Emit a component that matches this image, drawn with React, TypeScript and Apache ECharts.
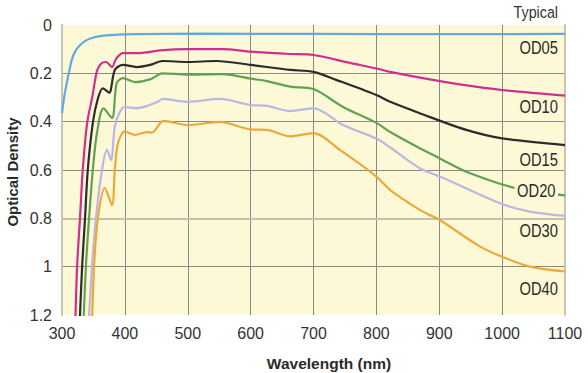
import React, { useEffect, useRef } from "react";
import * as echarts from "echarts";

// Wavelength (nm) / optical density samples
const wlOD05 = [300, 304, 308, 312, 316, 322, 329, 337, 345, 358, 376, 420, 520, 700, 900, 1100];
const odOD05 = [0.365, 0.29, 0.235, 0.185, 0.14, 0.105, 0.083, 0.066, 0.056, 0.047, 0.042, 0.038, 0.036, 0.037, 0.038, 0.037];

const wlOD10 = [320.5, 324, 328.6, 333, 340, 348, 355.6, 362, 370, 379.5, 386, 397, 424, 456, 500, 556, 600, 663, 700, 758, 800, 822, 874, 938, 1000, 1100];
const odOD10 = [1.3, 1.0, 0.8, 0.6, 0.405, 0.3, 0.19, 0.16, 0.153, 0.174, 0.14, 0.116, 0.116, 0.105, 0.1, 0.1, 0.11, 0.12, 0.124, 0.157, 0.18, 0.194, 0.22, 0.248, 0.269, 0.292];

const wlOD15 = [327, 332, 336.6, 341, 349, 357, 365, 375, 384, 397, 419, 440, 460, 500, 546, 600, 663, 700, 737, 800, 822, 869, 943, 1000, 1100];
const odOD15 = [1.3, 1.0, 0.8, 0.6, 0.405, 0.305, 0.262, 0.28, 0.186, 0.165, 0.174, 0.165, 0.149, 0.153, 0.149, 0.165, 0.186, 0.194, 0.228, 0.29, 0.318, 0.365, 0.434, 0.469, 0.497];

const wlOD20 = [333, 338, 343, 349, 355.6, 366, 379.5, 387, 397, 416, 440, 460, 500, 556, 600, 626, 663, 700, 747, 800, 822, 869, 901, 943, 1023, 1100];
const odOD20 = [1.3, 1.0, 0.8, 0.6, 0.447, 0.345, 0.385, 0.24, 0.22, 0.236, 0.225, 0.2, 0.205, 0.203, 0.222, 0.232, 0.255, 0.265, 0.339, 0.405, 0.443, 0.51, 0.552, 0.607, 0.676, 0.705];

const wlOD30 = [341, 347.7, 354, 363.6, 371.5, 378, 384, 392, 400, 419, 435, 452, 460, 500, 551, 600, 626, 663, 700, 747, 800, 822, 869, 901, 1000, 1044, 1100];
const odOD30 = [1.3, 1.0, 0.8, 0.6, 0.517, 0.559, 0.42, 0.36, 0.34, 0.344, 0.335, 0.318, 0.306, 0.318, 0.306, 0.331, 0.335, 0.356, 0.345, 0.414, 0.47, 0.507, 0.593, 0.627, 0.741, 0.772, 0.79];

const wlOD40 = [347, 351, 357, 368, 379.5, 384, 389, 400, 416, 435, 443, 456, 461, 500, 551, 600, 626, 663, 700, 742, 800, 822, 869, 885, 901, 965, 1000, 1044, 1100];
const odOD40 = [1.3, 1.0, 0.8, 0.674, 0.745, 0.6, 0.49, 0.44, 0.455, 0.443, 0.445, 0.407, 0.397, 0.414, 0.401, 0.432, 0.434, 0.461, 0.447, 0.517, 0.627, 0.683, 0.765, 0.786, 0.807, 0.917, 0.959, 1.0, 1.02];

const seriesNames = ["OD05", "OD10", "OD15", "OD20", "OD30", "OD40"];
const seriesColors = ["#62A9E2", "#D12F8F", "#2B2B2B", "#5FA253", "#BAB8E2", "#ECA93B"];
const labelY = [47.8, 106.3, 159.7, 190.5, 230.3, 288.3];

const xTicks = [300, 400, 500, 600, 700, 800, 900, 1000, 1100];

const zip = (xs: number[], ys: number[]) => xs.map((x, i) => [x, ys[i]]);

const BG = "#FDF9D6";

export default function App() {
  const ref = useRef<HTMLDivElement>(null);
  useEffect(() => {
    if (!ref.current) return;
    const chart = echarts.init(ref.current, null, { renderer: "svg" });
    const wls = [wlOD05, wlOD10, wlOD15, wlOD20, wlOD30, wlOD40];
    const ods = [odOD05, odOD10, odOD15, odOD20, odOD30, odOD40];
    const series: any[] = seriesNames.map((name, i) => ({
      name,
      type: "line",
      data: zip(wls[i], ods[i]),
      showSymbol: false,
      symbol: "none",
      smooth: 0.3,
      clip: true,
      lineStyle: { color: seriesColors[i], width: 2.2 },
      z: 3,
    }));
    series[0].markLine = {
      silent: true,
      symbol: "none",
      label: { show: false },
      lineStyle: { color: "#C4C0AE", width: 2, type: "solid" },
      data: [{ yAxis: 0.8 }],
      z: 2,
    };
    const graphic: any[] = [
      {
        type: "text",
        x: 558,
        y: 12.5,
        scaleX: 0.84,
        z: 10,
        style: {
          text: "Typical",
          font: "17px 'Liberation Sans', Arial, sans-serif",
          fill: "#333",
          textAlign: "right",
          textVerticalAlign: "middle",
        },
      },
      ...seriesNames.map((name, i) => ({
        type: "text",
        x: 558,
        y: labelY[i],
        scaleX: 0.82,
        z: 10,
        style: {
          text: name,
          font: "18px 'Liberation Sans', Arial, sans-serif",
          fill: "#2a2a2a",
          textAlign: "right",
          textVerticalAlign: "middle",
          backgroundColor: name === "OD20" ? BG : undefined,
          padding: name === "OD20" ? [0, 3] : undefined,
        },
      })),
      {
        type: "text",
        x: 12,
        y: 172,
        rotation: Math.PI / 2,
        z: 10,
        style: {
          text: "Optical Density",
          font: "bold 15px 'Liberation Sans', Arial, sans-serif",
          fill: "#2a2a2a",
          textAlign: "center",
          textVerticalAlign: "middle",
        },
      },
      {
        type: "text",
        x: 329,
        y: 363,
        z: 10,
        style: {
          text: "Wavelength (nm)",
          font: "bold 15.5px 'Liberation Sans', Arial, sans-serif",
          fill: "#2a2a2a",
          textAlign: "center",
          textVerticalAlign: "middle",
        },
      },
    ];
    chart.setOption({
      animation: false,
      backgroundColor: "#ffffff",
      grid: {
        left: 62,
        right: 23,
        top: 25,
        bottom: 58,
        show: true,
        backgroundColor: BG,
        borderWidth: 0,
      },
      xAxis: {
        type: "value",
        min: 300,
        max: 1100,
        interval: 100,
        axisLine: { show: false },
        axisTick: { show: false },
        axisLabel: {
          fontSize: 16,
          color: "#333",
          margin: 10,
          fontFamily: "'Liberation Sans', Arial, sans-serif",
          formatter: (v: number) => (xTicks.includes(v) ? String(v) : ""),
        },
        splitLine: {
          show: true,
          showMinLine: false,
          showMaxLine: false,
          lineStyle: { color: "#8A8A86", width: 1 },
        },
      },
      yAxis: [
        {
          type: "value",
          inverse: true,
          min: 0,
          max: 1.2,
          interval: 0.2,
          axisLine: { show: true, lineStyle: { color: "#C8C4B2", width: 2 } },
          axisTick: { show: false },
          axisLabel: {
            fontSize: 16,
            color: "#333",
            margin: 10,
            fontFamily: "'Liberation Sans', Arial, sans-serif",
            formatter: (v: number) => String(Math.round(v * 10) / 10),
          },
          splitLine: {
            show: true,
            showMinLine: false,
            showMaxLine: false,
            lineStyle: { color: "#8A8A86", width: 1 },
          },
        },
        {
          type: "value",
          position: "right",
          inverse: true,
          min: 0,
          max: 1.2,
          interval: 0.2,
          axisLine: { show: true, onZero: false, lineStyle: { color: "#C8C4B2", width: 2 } },
          axisTick: { show: false },
          axisLabel: { show: false },
          splitLine: { show: false },
        },
      ],
      series,
      graphic,
    });
    return () => chart.dispose();
  }, []);
  return <div ref={ref} style={{ width: 588, height: 373, position: "absolute", left: 0, top: 0 }} />;
}
